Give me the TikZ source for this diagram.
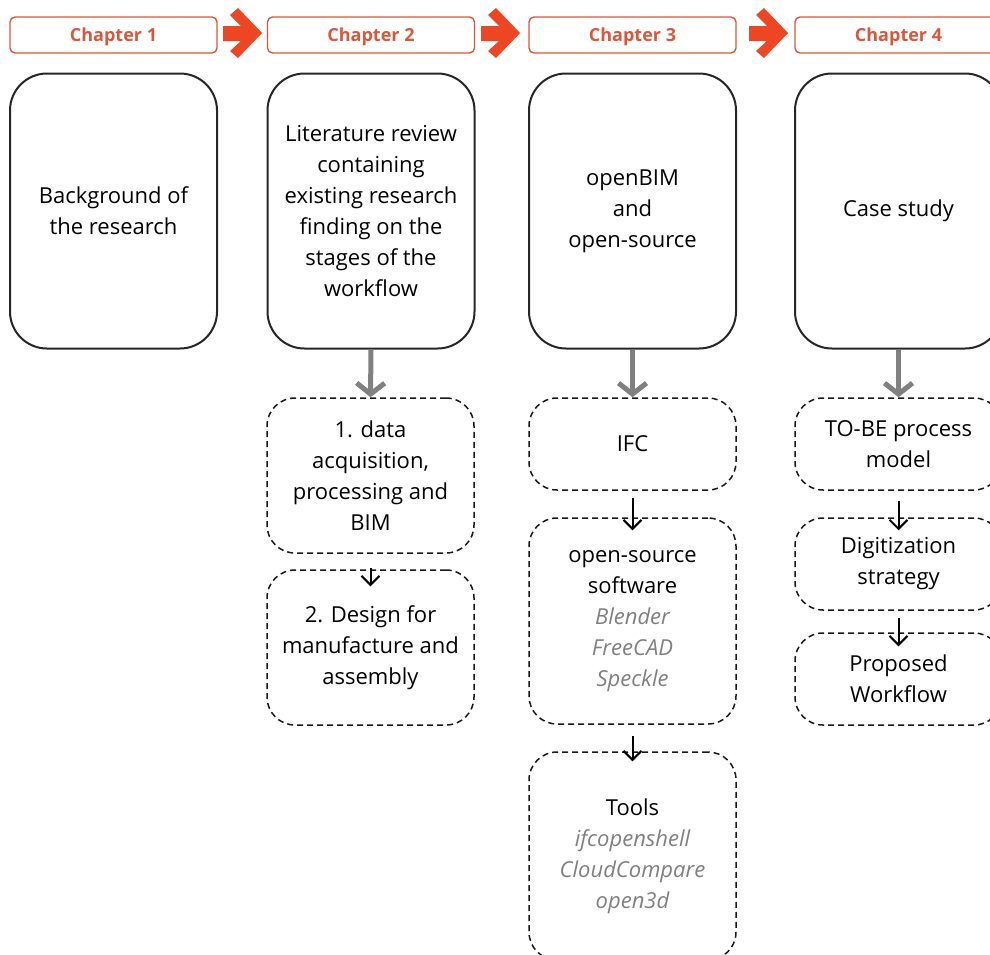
\documentclass[tikz,border=0pt]{standalone}
\usepackage{fontspec}
\setmainfont{Open Sans}
\usetikzlibrary{arrows.meta}
\definecolor{hdr}{RGB}{219,86,58}
\definecolor{chev}{RGB}{238,70,35}
\definecolor{note}{RGB}{128,128,128}
\definecolor{flow}{RGB}{128,128,128}
\begin{document}
\begin{tikzpicture}[x=1pt,y=-1pt,
  chapter/.style={draw=hdr,line width=1.4pt,rounded corners=5pt,minimum width=207pt,
    minimum height=36pt,inner sep=0pt,text height=13pt,text depth=0pt,text=hdr,
    font=\fontsize{18}{20}\selectfont\bfseries},
  mainbox/.style={draw=black!85,line width=2pt,rounded corners=37pt,minimum width=207pt,
    minimum height=275pt,inner sep=0pt,align=center,font=\fontsize{22}{31}\selectfont},
  subbox/.style={draw=black!90,line width=1.5pt,dash pattern=on 6pt off 4pt,rounded corners=28pt,
    minimum width=207pt,inner sep=0pt,align=center,font=\fontsize{22}{31}\selectfont},
  bigflow/.style={draw=flow,line width=5pt,-{Straight Barb[length=11pt,width=28pt]}},
  smallflow/.style={draw=black,line width=2pt,-{Straight Barb[length=9pt,width=18pt]}},
  chevron/.style={fill=chev,draw=none}]
\useasboundingbox (0,0) rectangle (990,954);
\clip (0,0) rectangle (990,954);

% chapter headers
\node[chapter] (h1) at (113.5,35) {Chapter 1};
\node[chapter] (h2) at (371,35) {Chapter 2};
\node[chapter] (h3) at (632.5,35) {Chapter 3};
\node[chapter] (h4) at (898.5,35) {Chapter 4};

% chevron arrows between the headers
\foreach \x in {223,481,749}{
  \fill[chevron] (\x,26) -- (\x+18,26) -- (\x+7,15) -- (\x+15,8) -- (\x+39,33)
     -- (\x+15,58) -- (\x+7,51) -- (\x+18,41) -- (\x,41) -- cycle;
}

% chapter contents
\node[mainbox] (b1) at (113.5,211) {Background of\\the research};
\node[mainbox] (b2) at (371,211) {Literature review\\containing\\existing research\\finding on the\\stages of the\\workflow};
\node[mainbox] (b3) at (632.5,211) {openBIM\\and\\open-source};
\node[mainbox] (b4) at (898.5,211) {Case study};

% chapter 2 stages
\node[subbox,minimum height=155pt] (s21) at (370.5,475.5) {1. data\\acquisition,\\processing and\\BIM};
\node[subbox,minimum height=155pt] (s22) at (370.5,647.5) {2. Design for\\manufacture and\\assembly};

% chapter 3 stages
\node[subbox,minimum height=92pt] (s31) at (632.5,444) {IFC};
\node[subbox,minimum height=206pt] (s32) at (632.5,621) {open-source\\software\\{\itshape\color{note}Blender}\\{\itshape\color{note}FreeCAD}\\{\itshape\color{note}Speckle}};
\node[subbox,minimum height=208pt] (s33) at (632.5,856) {Tools\\{\itshape\color{note}ifcopenshell}\\{\itshape\color{note}CloudCompare}\\{\itshape\color{note}open3d}};

% chapter 4 stages
\node[subbox,minimum height=92pt] (s41) at (898.5,444) {TO-BE process\\model};
\node[subbox,minimum height=92pt] (s42) at (898.5,564) {Digitization\\strategy};
\node[subbox,minimum height=92pt] (s43) at (898.5,679) {Proposed\\Workflow};

% flows
\draw[bigflow] (b2.south) -- (s21.north);
\draw[bigflow] (b3.south) -- (s31.north);
\draw[bigflow] (b4.south) -- (s41.north);
\draw[smallflow] ([yshift=-14pt]s21.south) -- ([yshift=-17pt]s22.north);
\draw[smallflow] ([yshift=-7pt]s31.south) -- ([yshift=-13pt]s32.north);
\draw[smallflow] ([yshift=-11pt]s32.south) -- ([yshift=-10pt]s33.north);
\draw[smallflow] ([yshift=-10pt]s41.south) -- ([yshift=-13pt]s42.north);
\draw[smallflow] ([yshift=-7pt]s42.south) -- ([yshift=-14pt]s43.north);
\end{tikzpicture}
\end{document}
